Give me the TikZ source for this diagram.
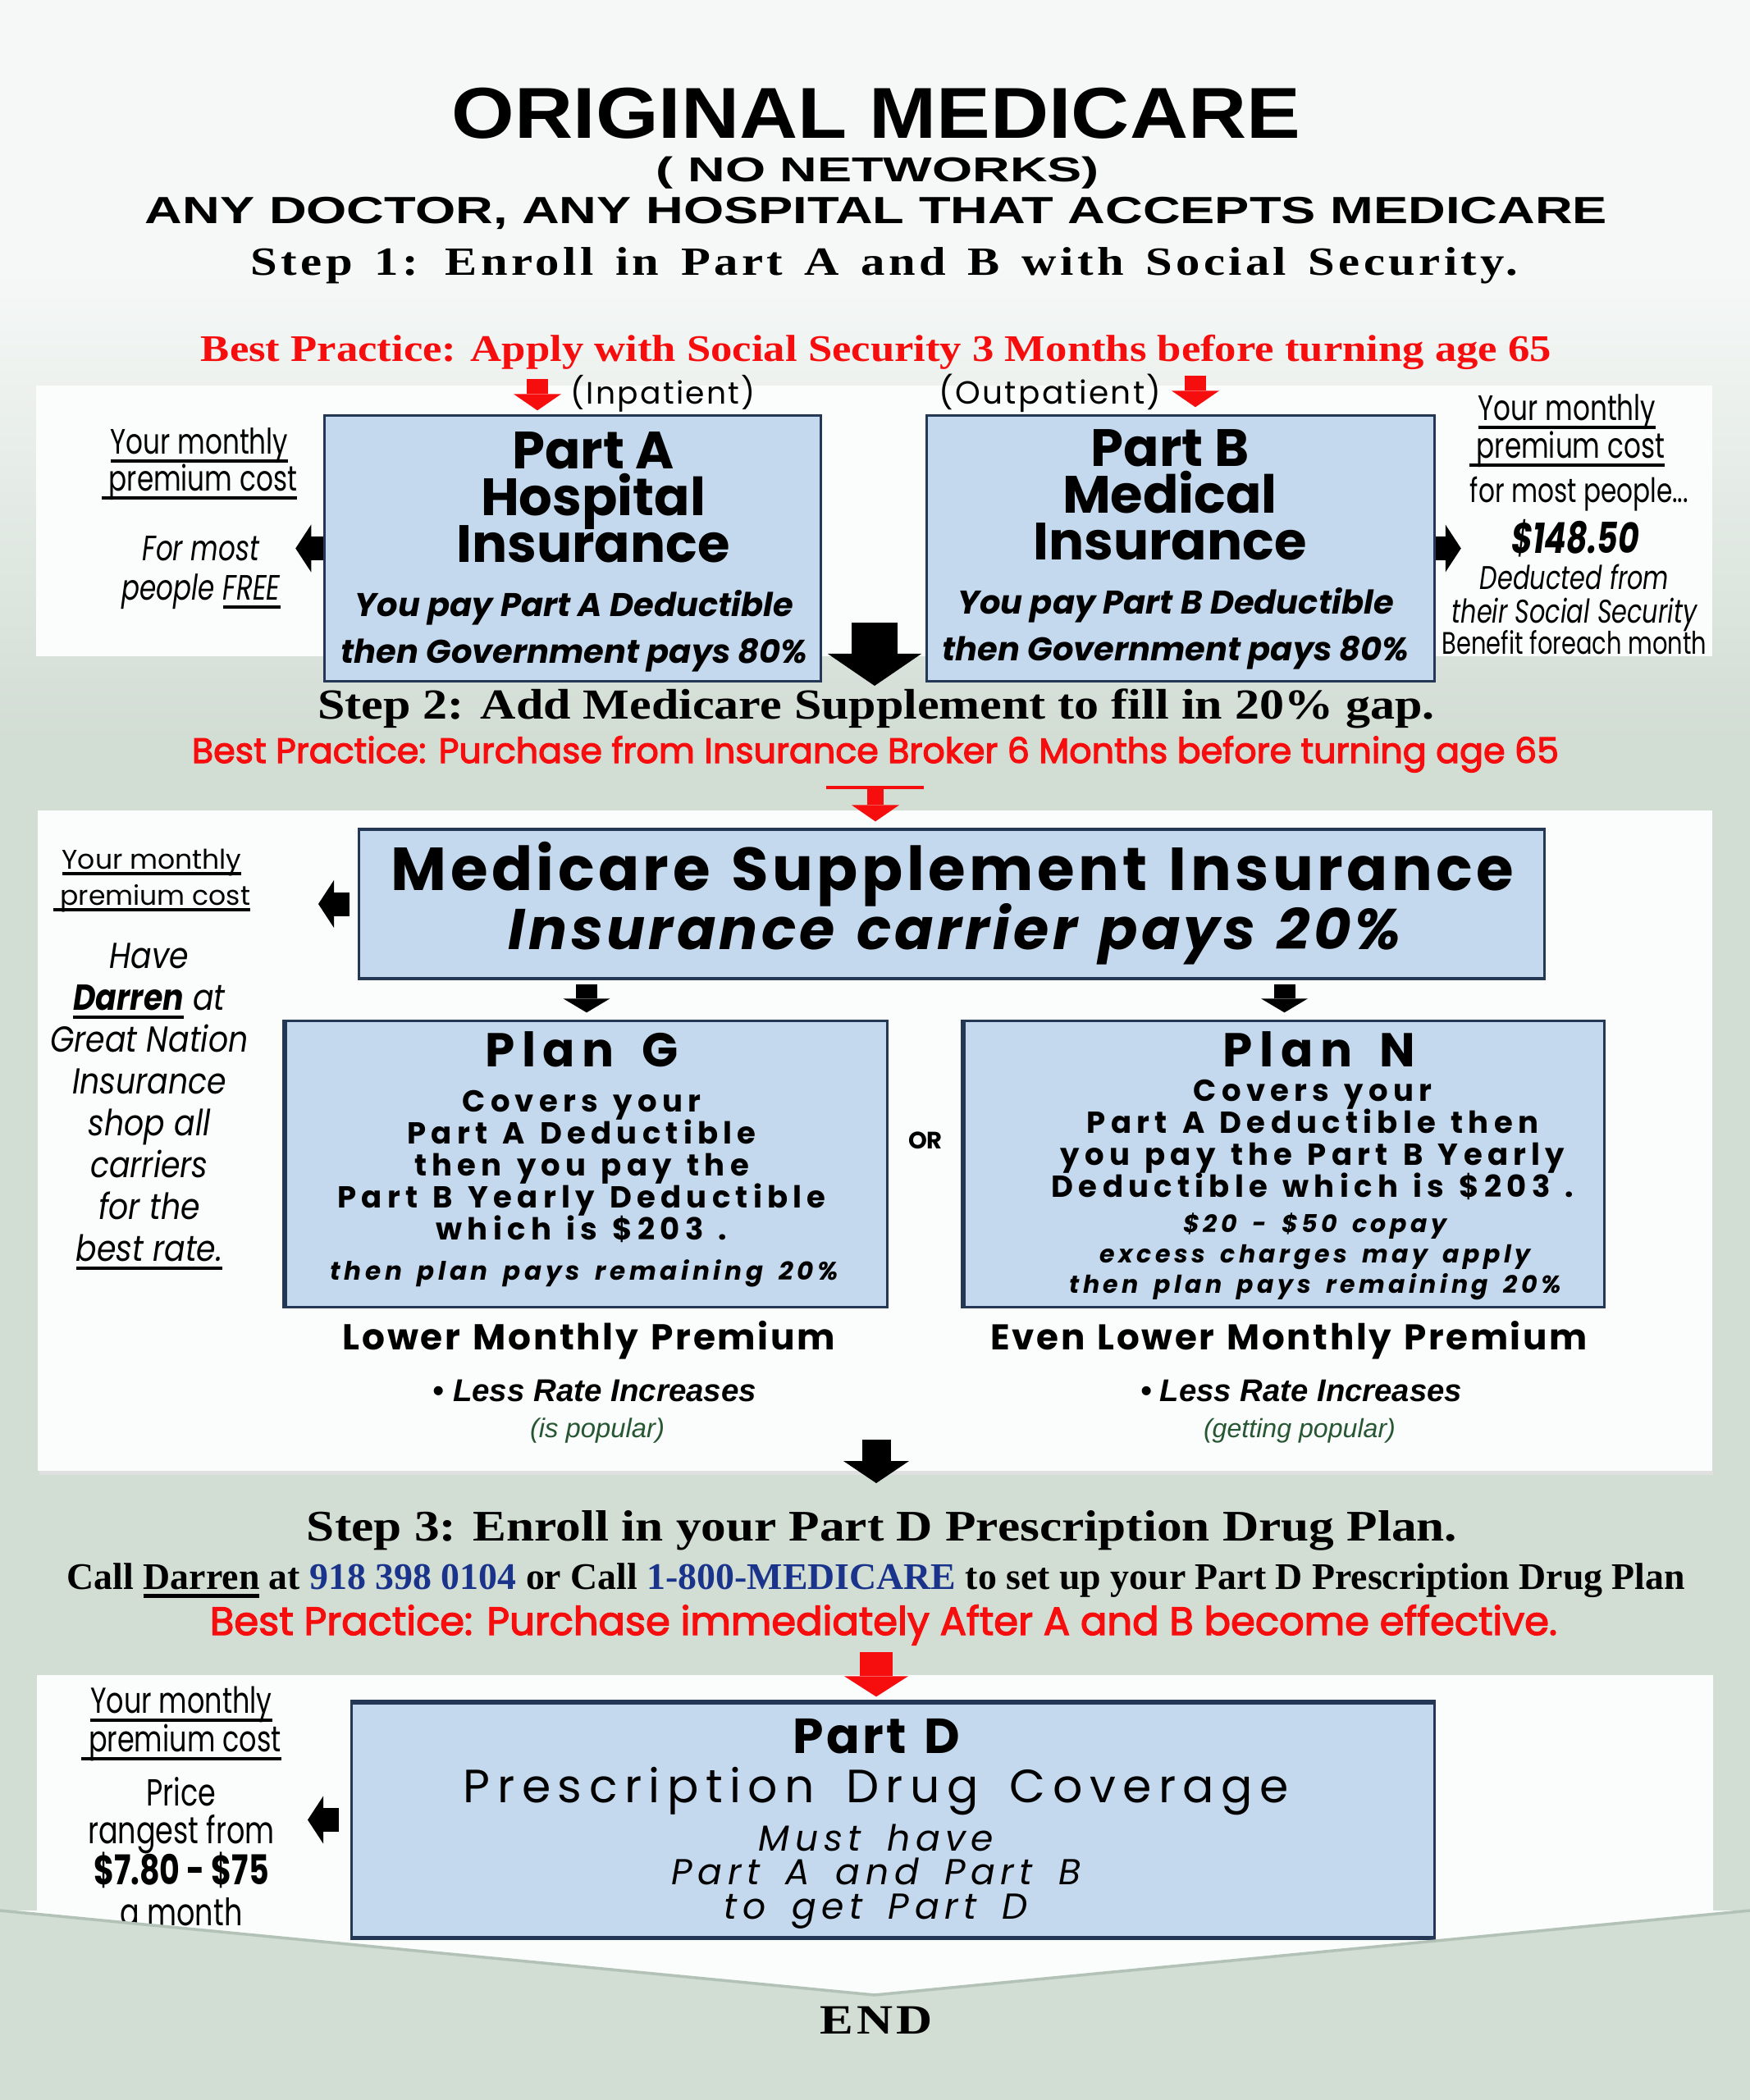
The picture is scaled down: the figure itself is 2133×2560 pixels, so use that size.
\documentclass[tikz,border=0pt]{standalone}
\usepackage{fontspec}
\usepackage{graphicx}
\usetikzlibrary{arrows.meta}

\newfontfamily\headA[FakeStretch=1.12]{Liberation Sans}
\newfontfamily\headB[FakeStretch=1.5]{Liberation Sans}
\newfontfamily\headC[FakeStretch=1.37]{Liberation Sans}
\newfontfamily\serifplain{Liberation Serif}
\newfontfamily\stepfont[FakeStretch=1.15]{Liberation Serif}
\newfontfamily\stepwide[FakeStretch=1.2,LetterSpace=9,WordSpace=1.4]{Liberation Serif}
\newfontfamily\sansplain{Liberation Sans}
\newfontfamily\geo{Poppins}
\newfontfamily\geospaced[LetterSpace=6,WordSpace=1.3]{Poppins}
\newfontfamily\geomid[LetterSpace=15,WordSpace=1.6]{Poppins}
\newfontfamily\geobody[LetterSpace=17,WordSpace=1.3]{Poppins}
\newfontfamily\geocond[FakeStretch=0.86]{Poppins}
\newfontfamily\geonarrow[FakeStretch=0.76]{Poppins}

\newdimen\pxu \pxu=0.01cm
\newcommand\fpx[2]{\fontsize{#1\pxu}{#2\pxu}\selectfont\lineskiplimit=-1000pt}
\newcommand\fitto[2]{\resizebox{#1\pxu}{!}{#2}}
\newcommand\uln[1]{\leavevmode\setbox0\hbox{#1}\rlap{\rule[-0.24em]{\wd0}{1.1pt}}\box0\relax}
\newcommand\heavy[1]{\special{pdf:literal direct 2 Tr 0.28 w}#1\special{pdf:literal direct 0 Tr}}

\definecolor{bgTop}{RGB}{245,248,247}
\definecolor{bgGreen}{RGB}{210,221,212}
\definecolor{panelWhite}{RGB}{251,252,252}
\definecolor{boxBlue}{RGB}{196,217,237}
\definecolor{boxEdge}{RGB}{36,56,86}
\definecolor{alertRed}{RGB}{246,14,14}
\definecolor{phoneBlue}{RGB}{26,52,140}
\definecolor{popGreen}{RGB}{38,86,50}
\definecolor{chevEdge}{RGB}{178,194,182}

\begin{document}
\begin{tikzpicture}[x=0.01cm,y=-0.01cm,
  bluebox/.style={draw=boxEdge, line width=0.9pt, fill=boxBlue, inner sep=0pt},
  txt/.style={inner sep=0pt, align=center},
  redarrow/.style={alertRed, line width=0.26cm, -{Triangle[length=0.2cm,width=0.58cm,line width=0pt]}},
  redbig/.style={alertRed, line width=0.4cm, -{Triangle[length=0.25cm,width=0.78cm,line width=0pt]}},
  downbig/.style={line width=0.55cm, -{Triangle[length=0.39cm,width=1.14cm,line width=0pt]}},
  downmid/.style={line width=0.35cm, -{Triangle[length=0.27cm,width=0.8cm,line width=0pt]}},
  downsmall/.style={line width=0.26cm, -{Triangle[length=0.17cm,width=0.57cm,line width=0pt]}},
  sidearrow/.style={line width=0.29cm, -{Triangle[length=0.19cm,width=0.58cm,line width=0pt]}}]

  \useasboundingbox (0,0) rectangle (2133,2560);
  % Background and white panels
  \fill[bgGreen] (0,0) rectangle (2133,2560);
  \fill[bgTop] (0,0) rectangle (2133,330);
  \shade[top color=bgTop, bottom color=bgGreen] (0,330) rectangle (2133,900);
  \fill[panelWhite] (44,470) rectangle (2087,800);
  \fill[black!12] (48,1793) rectangle (2088,1798);
  \fill[panelWhite] (46,988) rectangle (2087,1793);
  \fill[panelWhite] (45,2042) -- (2088,2042) -- (2088,2329) -- (2133,2329)
    -- (1066,2432) -- (0,2329) -- (45,2329) -- cycle;

  % Header lines
  \node[txt, anchor=base] (title) at (1068,168) {\fitto{1034}{\headA\bfseries ORIGINAL MEDICARE}};
  \node[txt, anchor=base] (nonet) at (1070,221) {\fitto{540}{\headB\bfseries ( NO NETWORKS)}};
  \node[txt, anchor=base] (anydoc) at (1068,272) {\fitto{1782}{\headC\bfseries ANY DOCTOR, ANY HOSPITAL THAT ACCEPTS MEDICARE}};
  \node[txt, anchor=base] (step1) at (1078,335) {\fitto{1544}{\stepwide\bfseries Step 1: Enroll in Part A and B with Social Security.}};
  \node[txt, anchor=base, text=alertRed] (bp1) at (1068,440) {\fitto{1646}{\stepfont\bfseries Best Practice: Apply with Social Security 3 Months before turning age 65}};
  \node[txt, anchor=base] (inpat) at (808,492) {\fitto{225}{\geospaced (Inpatient)}};
  \node[txt, anchor=base] (outpat) at (1280,492) {\fitto{271}{\geospaced (Outpatient)}};

  % Part A and Part B
  \node[bluebox, minimum width=6.04cm, minimum height=3.23cm] (parta) at (698,668.5) {};
  \node[bluebox, minimum width=6.18cm, minimum height=3.23cm] (partb) at (1439,668.5) {};
  \node[txt, anchor=north, font={\geo\bfseries\fpx{64}{57}}] (partaTitle) at (723,526) {Part A\\Hospital\\Insurance};
  \node[txt, anchor=north, font={\geo\bfseries\itshape\fpx{40}{57}}] (partaNote) at (700,719) {You pay Part A Deductible\\then Government pays 80\%};
  \node[txt, anchor=north, font={\geo\bfseries\fpx{64}{57}}] (partbTitle) at (1426,523) {Part B\\Medical\\Insurance};
  \node[txt, anchor=north, font={\geo\bfseries\itshape\fpx{40}{57}}] (partbNote) at (1433,716) {You pay Part B Deductible\\then Government pays 80\%};

  % Premium notes beside Part A and Part B
  \node[txt, anchor=north, font={\geonarrow\fpx{43}{45}}] (costA) at (243,521) {\uln{Your monthly}\\\uln{\ premium cost}};
  \node[txt, anchor=north, font={\geonarrow\itshape\fpx{43}{48}}] (freeA) at (245,653) {For most\\people \uln{FREE}};
  \node[txt, anchor=north, font={\geonarrow\fpx{43}{46}}] (costB) at (1910,480) {\uln{Your monthly}\\\uln{\ premium cost}};
  \node[txt, anchor=base, font={\geonarrow\fpx{41}{41}}] (mostB) at (1925,612) {for most people...};
  \node[txt, anchor=base, font={\geonarrow\bfseries\itshape\fpx{52}{52}}] (priceB) at (1920,674) {\$148.50};
  \node[txt, anchor=north, font={\geonarrow\itshape\fpx{40}{41}}] (deductB) at (1919,687) {Deducted from\\their Social Security};
  \node[txt, anchor=base, font={\geonarrow\fpx{38}{41}}] (benefitB) at (1919,797) {Benefit foreach month};

  % Step 2
  \node[txt, anchor=base] (step2) at (1068,876) {\fitto{1361}{\stepfont\bfseries Step 2: Add Medicare Supplement to fill in 20\% gap.}};
  \node[txt, anchor=base, text=alertRed] (bp2) at (1067,930) {\fitto{1666}{\geo\heavy{Best Practice: Purchase from Insurance Broker 6 Months before turning age 65}}};

  % Medicare Supplement
  \node[bluebox, minimum width=14.44cm, minimum height=1.82cm] (supp) at (1160,1102) {};
  \node[txt, anchor=base] (suppTitle) at (1161,1085) {\fitto{1368}{\geospaced\bfseries Medicare Supplement Insurance}};
  \node[txt, anchor=base] (suppNote) at (1164,1157) {\fitto{1088}{\geospaced\bfseries\itshape Insurance carrier pays 20\%}};
  \node[txt, anchor=north, font={\geo\fpx{33}{44}}] (costS) at (185,1034) {\uln{Your monthly}\\\uln{\ premium cost}};
  \node[txt, anchor=north, font={\geocond\itshape\fpx{44}{51}}] (shopS) at (182,1149) {Have\\\textbf{\uln{Darren}} at\\Great Nation\\Insurance\\shop all\\carriers\\for the\\\uln{best rate.}};

  % Plan G and Plan N
  \node[bluebox, minimum width=7.32cm, minimum height=3.48cm] (planG) at (715,1419) {};
  \node[bluebox, minimum width=7.79cm, minimum height=3.48cm] (planN) at (1565.5,1419) {};
  \draw[boxEdge, line width=0.06cm] (planG.north west) -- (planG.south west);
  \draw[boxEdge, line width=0.06cm] (planN.north west) -- (planN.south west);
  \node[txt, anchor=north, font={\geomid\bfseries\fpx{58}{60}}] (planGTitle) at (709,1257) {Plan G};
  \node[txt, anchor=north, font={\geobody\bfseries\fpx{37}{38.8}}] (planGBody) at (709,1329) {Covers your\\Part A Deductible\\then you pay the\\Part B Yearly Deductible\\which is \$203 .};
  \node[txt, anchor=base, font={\geomid\bfseries\itshape\fpx{31}{36}}] (planGPays) at (712,1560) {then plan pays remaining 20\%};
  \node[txt, anchor=north, font={\geomid\bfseries\fpx{58}{60}}] (planNTitle) at (1608,1257) {Plan N};
  \node[txt, anchor=north, font={\geobody\bfseries\fpx{37}{38.7}}] (planNBody) at (1600,1316) {Covers your\\Part A Deductible then\\you pay the Part B Yearly\\Deductible which is \$203 .};
  \node[txt, anchor=north, font={\geomid\bfseries\itshape\fpx{30}{37}}] (planNExtra) at (1603,1478) {\$20 - \$50 copay\\excess charges may apply\\then plan pays remaining 20\%};
  \node[txt, anchor=base, font={\geo\bfseries\fpx{29}{30}}] (orLabel) at (1128,1400) {OR};

  % Notes under the plans
  \node[txt, anchor=base] (lowG) at (718,1645) {\fitto{600}{\geospaced\bfseries Lower Monthly Premium}};
  \node[txt, anchor=base] (lowN) at (1571,1645) {\fitto{727}{\geospaced\bfseries Even Lower Monthly Premium}};
  \node[txt, anchor=base] (rateG) at (725,1708) {\fitto{394}{\sansplain\bfseries\itshape • Less Rate Increases}};
  \node[txt, anchor=base] (rateN) at (1586,1708) {\fitto{392}{\sansplain\bfseries\itshape • Less Rate Increases}};
  \node[txt, anchor=base, text=popGreen] (popG) at (728,1752) {\fitto{164}{\sansplain\itshape (is popular)}};
  \node[txt, anchor=base, text=popGreen] (popN) at (1584,1752) {\fitto{234}{\sansplain\itshape (getting popular)}};

  % Step 3
  \node[txt, anchor=base] (step3) at (1075,1878) {\fitto{1402}{\stepfont\bfseries Step 3: Enroll in your Part D Prescription Drug Plan.}};
  \node[txt, anchor=base] (callD) at (1068,1937) {\fitto{1972}{\serifplain\bfseries Call \uln{Darren} at \textcolor{phoneBlue}{918 398 0104} or Call \textcolor{phoneBlue}{1-800-MEDICARE} to set up your Part D Prescription Drug Plan}};
  \node[txt, anchor=base, text=alertRed] (bp3) at (1077,1993) {\fitto{1642}{\geo\heavy{Best Practice: Purchase immediately After A and B become effective.}}};

  % Part D
  \node[bluebox, minimum width=13.19cm, minimum height=2.85cm] (partd) at (1088.5,2218.5) {};
  \draw[boxEdge, line width=0.05cm] (partd.north west) -- (partd.north east);
  \draw[boxEdge, line width=0.05cm] (partd.south west) -- (partd.south east);
  \node[txt, anchor=base, font={\geospaced\bfseries\fpx{60}{60}}] (partdTitle) at (1068,2137) {Part D};
  \node[txt, anchor=base] (partdName) at (1068,2197) {\fitto{1006}{\geomid Prescription Drug Coverage}};
  \node[txt, anchor=north, font={\geomid\itshape\fpx{44}{41.5}}] (partdNote) at (1068,2223) {Must have\\Part A and Part B\\to get Part D};
  \node[txt, anchor=north, font={\geonarrow\fpx{44}{47}}] (costD) at (221,2055) {\uln{Your monthly}\\\uln{\ premium cost}};
  \node[txt, anchor=north, font={\geonarrow\fpx{46}{46}}] (rangeD) at (221,2166) {Price\\rangest from};
  \node[txt, anchor=base, font={\geonarrow\bfseries\fpx{50}{50}}] (priceD) at (221,2297) {\$7.80 - \$75};
  \begin{scope}
    \clip (0,2000) -- (2133,2000) -- (2133,2329) -- (1066,2432) -- (0,2329) -- cycle;
    \node[txt, anchor=base, font={\geonarrow\fpx{46}{46}}] (monthD) at (221,2347) {a month};
  \end{scope}
  \draw[chevEdge, line width=1pt] (0,2329) -- (1066,2432) -- (2133,2329);
  \node[txt, anchor=base] (endLabel) at (1068,2479) {\fitto{138}{\stepwide\bfseries END}};

  % Red arrows from the best-practice lines
  \coordinate (aIn) at (655,462);
  \draw[redarrow, shorten >=0.05cm] (aIn) -- (aIn |- parta.north);
  \coordinate (bIn) at (1457,458);
  \draw[redarrow, shorten >=0.09cm] (bIn) -- (bIn |- partb.north);
  \coordinate (barL) at (1007,960);
  \coordinate (barR) at (1126,960);
  \draw[alertRed, line width=0.045cm] (barL) -- (barR);
  \coordinate (sIn) at (1067,960);
  \draw[redarrow, line width=0.2cm, shorten >=0.08cm] (sIn) -- (sIn |- supp.north);
  \coordinate (dIn) at (1068,2014);
  \draw[redbig, shorten >=0.06cm] (dIn) -- (dIn |- partd.north);

  % Black flow arrows
  \coordinate (abOut) at (1066,759);
  \draw[downbig] (abOut) -- ++(0,77);
  \draw[downsmall, shorten <=0.05cm, shorten >=0.09cm] (supp.south -| planG.north) -- (planG.north);
  \draw[downsmall, shorten <=0.05cm, shorten >=0.09cm] (supp.south -| planN.north) -- (planN.north);
  \coordinate (gOut) at (1068,1755);
  \draw[downmid] (gOut) -- ++(0,53);

  % Arrows to the premium notes
  \draw[sidearrow] (parta.west) -- ++(-34,0);
  \draw[sidearrow] (partb.east) -- ++(31,0);
  \draw[sidearrow, shorten <=0.1cm] (supp.west) -- ++(-48,0);
  \draw[sidearrow, shorten <=0.14cm] (partd.west) -- ++(-52,0);
\end{tikzpicture}
\end{document}
